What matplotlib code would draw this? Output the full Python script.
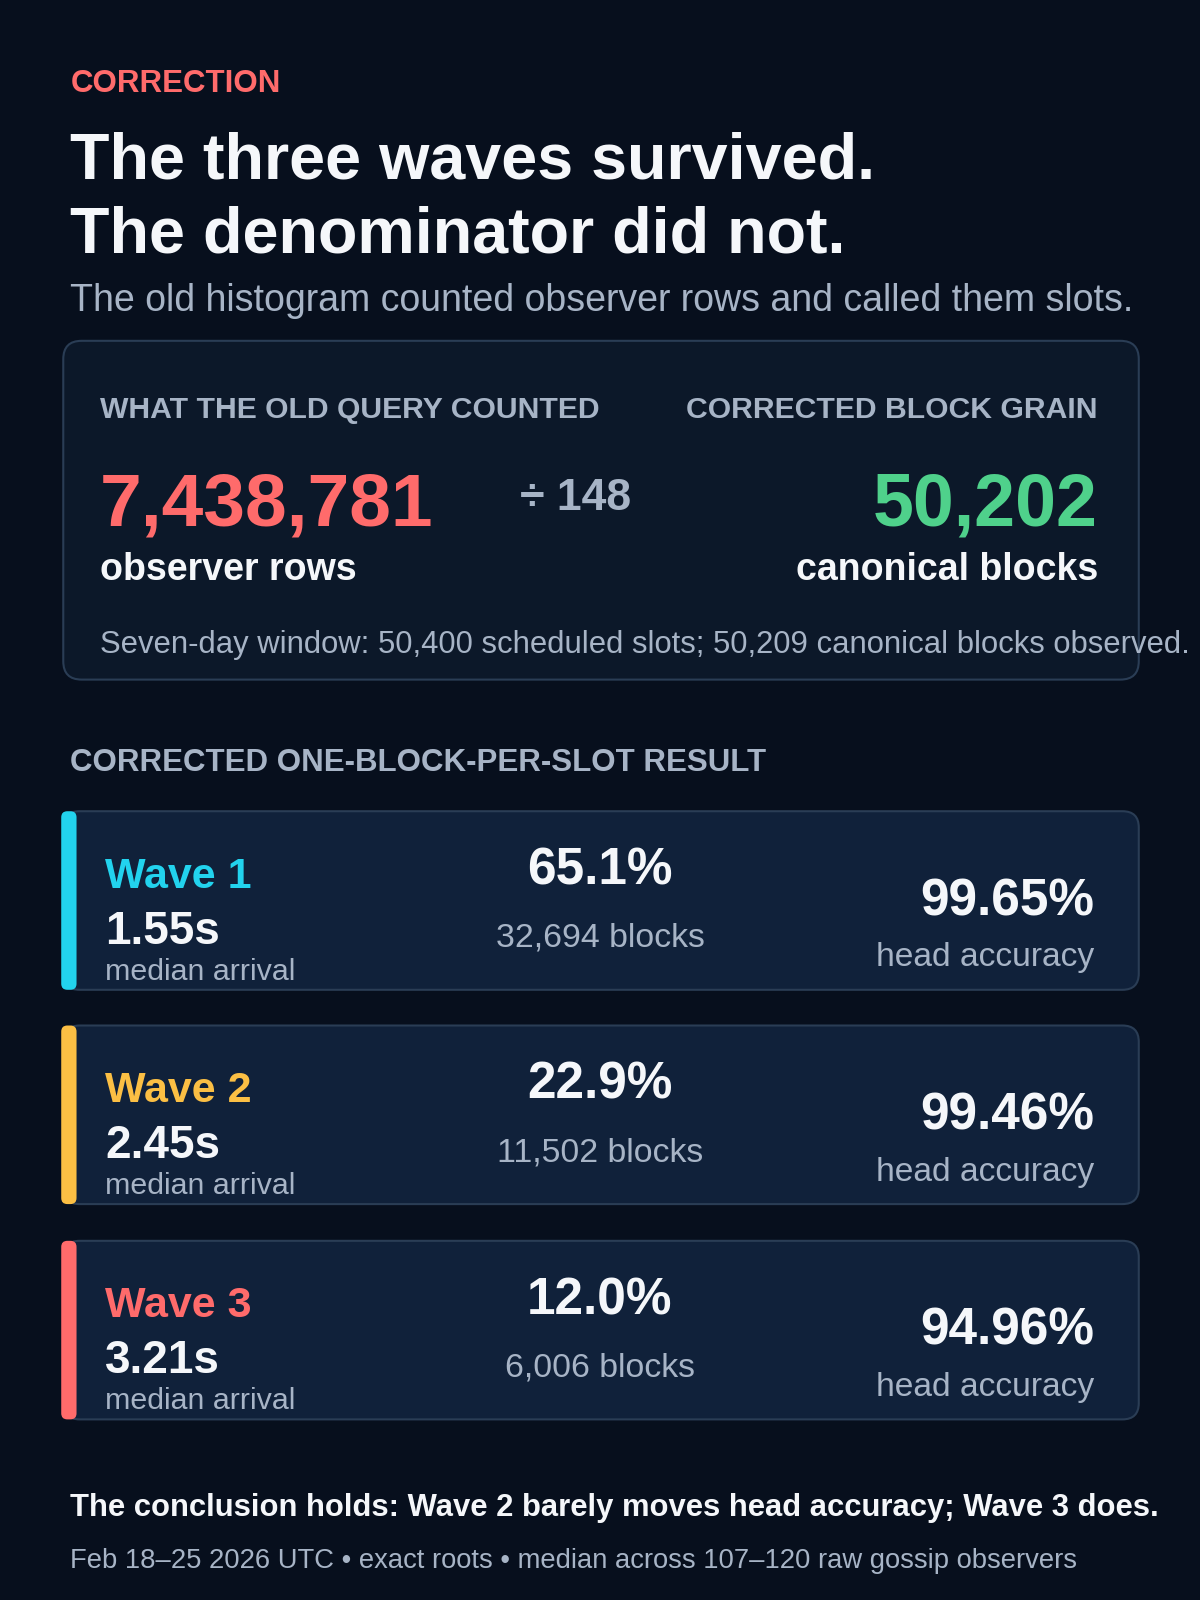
import matplotlib
matplotlib.use("Agg")
import matplotlib.pyplot as plt
from matplotlib.patches import FancyBboxPatch

plt.rcParams['font.family'] = ['Liberation Sans', 'DejaVu Sans']

waves = ["Wave 1", "Wave 2", "Wave 3"]
wave_colors = ["#22d3ee", "#fbbf44", "#ff6b6b"]
median_arrival = ["1.55s", "2.45s", "3.21s"]
share = ["65.1%", "22.9%", "12.0%"]
blocks = ["32,694 blocks", "11,502 blocks", "6,006 blocks"]
head_acc = ["99.65%", "99.46%", "94.96%"]
old_rows = "7,438,781"
divisor = "÷ 148"
corrected_blocks = "50,202"

BG = "#070f1d"
WHITE = "#f5f7fa"
GREY = "#a7b4c6"
RED = "#ff6b6b"
GREEN = "#4fd18b"

fig = plt.figure(figsize=(12, 16), dpi=100, facecolor=BG)
ax = fig.add_axes([0, 0, 1, 1])
ax.set_xlim(0, 1176); ax.set_ylim(1568, 0); ax.axis('off')
ax.set_facecolor(BG)

def t(x, y, s, size, color=WHITE, weight='normal', ha='left'):
    ax.text(x, y, s, fontsize=size, color=color, fontweight=weight, ha=ha, va='baseline')

t(69, 90, "CORRECTION", 22.5, RED, 'bold')
t(69, 175, "The three waves survived.", 46.5, WHITE, 'bold')
t(69, 247, "The denominator did not.", 46.5, WHITE, 'bold')
t(69, 305, "The old histogram counted observer rows and called them slots.", 27, GREY)

ax.add_patch(FancyBboxPatch((62, 334), 1054, 332, boxstyle="round,pad=0,rounding_size=18",
                            fc="#0c1829", ec="#2a3d55", lw=1.5))
t(98, 410, "WHAT THE OLD QUERY COUNTED", 21.7, GREY, 'bold')
t(1076, 410, "CORRECTED BLOCK GRAIN", 21.7, GREY, 'bold', 'right')
t(98, 515, old_rows, 54, RED, 'bold')
t(510, 500, divisor, 32, GREY, 'bold')
t(1076, 515, corrected_blocks, 53, GREEN, 'bold', 'right')
t(98, 568, "observer rows", 27, WHITE, 'bold')
t(1076, 568, "canonical blocks", 27, WHITE, 'bold', 'right')
t(98, 640, "Seven-day window: 50,400 scheduled slots; 50,209 canonical blocks observed.", 22.3, GREY)

t(69, 756, "CORRECTED ONE-BLOCK-PER-SLOT RESULT", 22.5, GREY, 'bold')

tops = [795, 1005, 1216]
for i in range(3):
    y0 = tops[i]
    ax.add_patch(FancyBboxPatch((62, y0), 1054, 175, boxstyle="round,pad=0,rounding_size=16",
                                fc="#10213a", ec="#2a3d55", lw=1.5))
    ax.add_patch(FancyBboxPatch((60, y0), 15, 175, boxstyle="round,pad=0,rounding_size=6",
                                fc=wave_colors[i], ec='none'))
    t(103, y0 + 75, waves[i], 31, wave_colors[i], 'bold')
    t(103, y0 + 130, median_arrival[i], 33, WHITE, 'bold')
    t(103, y0 + 165, "median arrival", 21.9, GREY)
    t(588, y0 + 72, share[i], 37, WHITE, 'bold', 'center')
    t(588, y0 + 133, blocks[i], 24.4, GREY, 'normal', 'center')
    t(1072, y0 + 102, head_acc[i], 37, WHITE, 'bold', 'right')
    t(1072, y0 + 152, "head accuracy", 24.2, GREY, 'normal', 'right')

t(69, 1486, "The conclusion holds: Wave 2 barely moves head accuracy; Wave 3 does.", 22.3, WHITE, 'bold')
t(69, 1537, "Feb 18–25 2026 UTC • exact roots • median across 107–120 raw gossip observers", 19.7, GREY)

fig.savefig("out.png", dpi=100, facecolor=BG)
